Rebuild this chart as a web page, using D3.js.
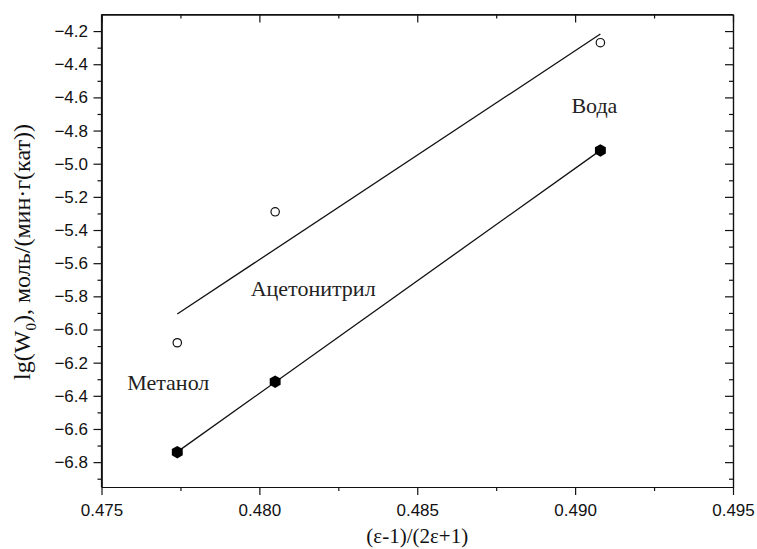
<!DOCTYPE html>
<html><head><meta charset="utf-8">
<script src="https://cdn.jsdelivr.net/npm/d3@7"></script>
<style>body{margin:0;background:#fff}svg{display:block}</style>
</head><body>
<svg id="chart" width="757" height="549"></svg>
<script>
const solvents = ["Метанол", "Ацетонитрил", "Вода"];
const xValues = [0.4774, 0.4805, 0.4908];
const openValues = [-6.08, -5.29, -4.27];
const filledValues = [-6.74, -6.315, -4.92];
const xTicks = [0.475, 0.480, 0.485, 0.490, 0.495];
const yTicks = [-6.8, -6.6, -6.4, -6.2, -6.0, -5.8, -5.6, -5.4, -5.2, -5.0, -4.8, -4.6, -4.4, -4.2];

const svg = d3.select("#chart");
const L = 101.5, R = 733, T = 14.5, B = 487;
const x = d3.scaleLinear().domain([0.475, 0.495]).range([L, R]);
const y = d3.scaleLinear().domain([-6.95, -4.1]).range([B, T]);

const xMinor = d3.range(0, 9).map(i => 0.475 + i * 0.0025).filter(v => !xTicks.some(t => Math.abs(t - v) < 1e-9));
const yMinor = d3.range(0, 14).map(i => -6.9 + i * 0.2);

const axFont = "'Liberation Sans', Arial, sans-serif";
// bottom axis
const gB = svg.append("g").attr("transform", `translate(0,${B})`)
  .call(d3.axisBottom(x).tickValues(xTicks).tickFormat(d3.format(".3f")).tickSize(8).tickSizeOuter(0));
gB.append("g").call(d3.axisBottom(x).tickValues(xMinor).tickFormat("").tickSize(4).tickSizeOuter(0));
// top axis (inward)
const gT = svg.append("g").attr("transform", `translate(0,${T})`)
  .call(d3.axisTop(x).tickValues(xTicks).tickFormat("").tickSize(-8).tickSizeOuter(0));
gT.append("g").call(d3.axisTop(x).tickValues(xMinor).tickFormat("").tickSize(-4).tickSizeOuter(0));
// left axis
const gL = svg.append("g").attr("transform", `translate(${L},0)`)
  .call(d3.axisLeft(y).tickValues(yTicks).tickFormat(d3.format(".1f")).tickSize(8).tickSizeOuter(0));
gL.append("g").call(d3.axisLeft(y).tickValues(yMinor).tickFormat("").tickSize(4).tickSizeOuter(0));
// right axis (inward)
const gR = svg.append("g").attr("transform", `translate(${R},0)`)
  .call(d3.axisRight(y).tickValues(yTicks).tickFormat("").tickSize(-8).tickSizeOuter(0));
gR.append("g").call(d3.axisRight(y).tickValues(yMinor).tickFormat("").tickSize(-4).tickSizeOuter(0));

svg.selectAll(".domain").attr("stroke", "#111").attr("stroke-width", 1.2);
svg.selectAll(".tick line").attr("stroke", "#111").attr("stroke-width", 1.2);
svg.selectAll(".tick text").attr("font-family", axFont).attr("font-size", 17).attr("fill", "#111");
gB.selectAll(".tick text").attr("dy", "1.05em");
gL.selectAll(".tick text").attr("dx", "-0.15em");
svg.append("line").attr("x1", L).attr("x2", L).attr("y1", T).attr("y2", B).attr("stroke", "#111").attr("stroke-width", 1.2);
svg.append("line").attr("x1", L).attr("x2", R).attr("y1", T).attr("y2", T).attr("stroke", "#111").attr("stroke-width", 1.2);

// linear fit
function fit(xs, ys){
  const mx = d3.mean(xs), my = d3.mean(ys);
  const sxy = d3.sum(xs, (v, i) => (v - mx) * (ys[i] - my));
  const sxx = d3.sum(xs, v => (v - mx) * (v - mx));
  const k = sxy / sxx;
  return v => my + k * (v - mx);
}
const xs0 = d3.min(xValues), xs1 = d3.max(xValues);
[openValues, filledValues].forEach(vals => {
  const f = fit(xValues, vals);
  svg.append("line")
    .attr("x1", x(xs0)).attr("y1", y(f(xs0)))
    .attr("x2", x(xs1)).attr("y2", y(f(xs1)))
    .attr("stroke", "#111").attr("stroke-width", 1.3);
});

// open circles
svg.selectAll(".open").data(xValues).enter().append("circle")
  .attr("cx", d => x(d)).attr("cy", (d, i) => y(openValues[i])).attr("r", 4.2)
  .attr("fill", "#fff").attr("stroke", "#111").attr("stroke-width", 1.2);

// filled hexagons
const hex = r => d3.range(6).map(k => { const a = Math.PI / 2 + k * Math.PI / 3; return [r * Math.cos(a), r * Math.sin(a)]; });
svg.selectAll(".fill").data(xValues).enter().append("polygon")
  .attr("points", hex(6.3).map(p => p.join(",")).join(" "))
  .attr("transform", (d, i) => `translate(${x(d)},${y(filledValues[i])})`)
  .attr("fill", "#000");

// solvent labels
const serif = "'Liberation Serif', 'Times New Roman', serif";
const labelPos = [
  {dx: -9, dy: -62},
  {dx: 38, dy: -86},
  {dx: -6, dy: -37}
];
solvents.forEach((s, i) => {
  svg.append("text")
    .attr("x", x(xValues[i]) + labelPos[i].dx)
    .attr("y", y(filledValues[i]) + labelPos[i].dy)
    .attr("text-anchor", "middle")
    .attr("font-family", serif).attr("font-size", 22).attr("fill", "#222")
    .text(s);
});

// axis titles
svg.append("text").attr("x", (L + R) / 2).attr("y", 543).attr("text-anchor", "middle")
  .attr("font-family", serif).attr("font-size", 21).attr("fill", "#111")
  .text("(ε-1)/(2ε+1)");
const yt = svg.append("text").attr("transform", "translate(30,252) rotate(-90)").attr("text-anchor", "middle")
  .attr("font-family", serif).attr("font-size", 24).attr("fill", "#111");
yt.append("tspan").text("lg(W");
yt.append("tspan").attr("font-size", 15).attr("dy", 6).text("0");
yt.append("tspan").attr("dy", -6).text("), моль/(мин·г(кат))");
</script>
</body></html>
